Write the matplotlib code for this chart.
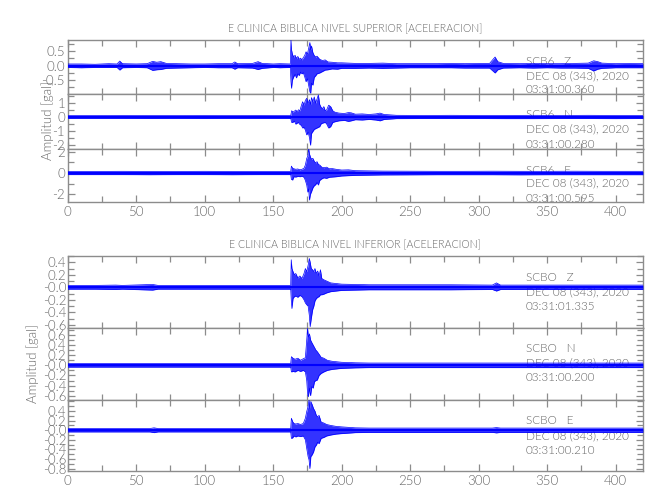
import matplotlib
matplotlib.use("Agg")
import matplotlib.pyplot as plt
from matplotlib.ticker import MultipleLocator, FixedLocator, FixedFormatter

plt.rcParams['font.family'] = ['Lato', 'DejaVu Sans']
plt.rcParams['font.weight'] = 300
plt.rcParams['axes.unicode_minus'] = False

# ---------------- data (envelopes) ----------------
titles = ["E CLINICA BIBLICA NIVEL SUPERIOR [ACELERACION]",
          "E CLINICA BIBLICA NIVEL INFERIOR [ACELERACION]"]
ylabel = "Amplitud [gal]"
xticks = [0, 50, 100, 150, 200, 250, 300, 350, 400]
xlim = [0, 420]

stations = ["SCB6   Z", "SCB6   N", "SCB6   E", "SCBO   Z", "SCBO   N", "SCBO   E"]
dates = ["DEC 08 (343), 2020"] * 6
times = ["03:31:00.360", "03:31:00.280", "03:31:00.595",
         "03:31:01.335", "03:31:00.200", "03:31:00.210"]

# top group, Z
sup_z_t = [0, 10, 20, 30, 36, 38, 40, 50, 58, 62, 65, 68, 72, 80, 90, 100, 110, 120, 122, 124,
           135, 139, 142, 150, 155, 162.5, 163.0, 163.4, 164, 165, 166, 167, 168, 169, 170, 171,
           172, 173, 174, 175, 176, 176.8, 177.4, 178, 179, 180, 181, 182, 184, 186, 188, 190,
           193, 197, 200, 205, 210, 220, 230, 240, 250, 260, 270, 280, 290, 300, 308, 312, 314,
           318, 330, 340, 350, 360, 370, 380, 384, 387, 390, 400, 410, 420]
sup_z_hi = [0.06, 0.06, 0.05, 0.07, 0.06, 0.16, 0.07, 0.06, 0.07, 0.15, 0.12, 0.14, 0.08, 0.07, 0.06,
            0.06, 0.07, 0.07, 0.13, 0.07, 0.08, 0.14, 0.08, 0.06, 0.07, 0.06, 0.88, 0.55, 0.40, 0.30,
            0.36, 0.25, 0.32, 0.22, 0.26, 0.20, 0.28, 0.35, 0.48, 0.40, 0.62, 0.80, 0.55, 0.68, 0.45,
            0.35, 0.30, 0.33, 0.22, 0.18, 0.20, 0.13, 0.12, 0.10, 0.10, 0.09, 0.08, 0.08, 0.09, 0.07,
            0.07, 0.07, 0.07, 0.08, 0.07, 0.08, 0.08, 0.30, 0.14, 0.08, 0.07, 0.08, 0.07, 0.07, 0.08,
            0.09, 0.17, 0.14, 0.09, 0.07, 0.08, 0.07]
sup_z_lo = [-0.06, -0.07, -0.06, -0.06, -0.06, -0.15, -0.07, -0.06, -0.07, -0.16, -0.14, -0.13, -0.09,
            -0.08, -0.07, -0.06, -0.07, -0.07, -0.12, -0.07, -0.08, -0.13, -0.09, -0.06, -0.07, -0.06,
            -0.55, -0.78, -0.50, -0.38, -0.30, -0.42, -0.28, -0.34, -0.22, -0.28, -0.24, -0.38, -0.55,
            -0.45, -0.70, -0.90, -0.95, -0.60, -0.67, -0.40, -0.35, -0.28, -0.25, -0.20, -0.15, -0.14,
            -0.11, -0.12, -0.09, -0.09, -0.09, -0.08, -0.09, -0.08, -0.07, -0.07, -0.07, -0.07, -0.08,
            -0.08, -0.08, -0.25, -0.14, -0.08, -0.07, -0.08, -0.07, -0.08, -0.08, -0.09, -0.18, -0.12,
            -0.09, -0.07, -0.07, -0.07]

# top group, N
sup_n_t = [0, 20, 40, 60, 80, 100, 120, 140, 160, 162.8, 163.5, 164.5, 165.5, 166.5, 167.5, 168.5,
           169.5, 170.5, 171.5, 172.5, 173.5, 174.5, 175.5, 176.5, 177.3, 178, 179, 180, 181, 182,
           183, 184, 185, 186, 187, 188, 189, 190.5, 192, 193.5, 195, 198, 202, 205, 207, 210, 215,
           220, 225, 228, 231, 240, 260, 280, 300, 320, 340, 360, 380, 400, 420]
sup_n_hi = [0.10, 0.10, 0.11, 0.10, 0.10, 0.11, 0.10, 0.11, 0.10, 0.10, 0.45, 0.35, 0.42, 0.50, 0.38,
            0.52, 0.45, 0.80, 1.10, 0.85, 1.20, 1.35, 1.00, 1.25, 0.90, 1.40, 1.10, 1.45, 1.00, 1.30,
            1.60, 0.90, 0.70, 0.60, 0.75, 0.45, 0.50, 0.85, 0.75, 0.45, 0.35, 0.28, 0.25, 0.32, 0.30,
            0.20, 0.22, 0.18, 0.22, 0.28, 0.18, 0.12, 0.11, 0.12, 0.11, 0.11, 0.12, 0.11, 0.12, 0.11,
            0.11]
sup_n_lo = [-0.10, -0.10, -0.10, -0.11, -0.10, -0.11, -0.10, -0.10, -0.10, -0.10, -0.40, -0.38, -0.30,
            -0.52, -0.45, -0.40, -0.55, -0.60, -0.80, -0.75, -0.95, -1.30, -1.10, -1.50, -2.05, -1.20,
            -1.05, -0.90, -0.85, -0.80, -0.75, -0.70, -0.50, -0.45, -0.42, -0.40, -0.50, -0.80, -0.70,
            -0.40, -0.35, -0.28, -0.25, -0.32, -0.28, -0.20, -0.22, -0.18, -0.22, -0.28, -0.18, -0.12,
            -0.11, -0.11, -0.11, -0.12, -0.12, -0.11, -0.11, -0.12, -0.11]

# top group, E
sup_e_t = [0, 20, 40, 60, 80, 100, 120, 140, 160, 162.8, 163.3, 164.2, 165.2, 166.5, 168, 169.5,
           171, 172.5, 173.5, 174.5, 175.3, 175.9, 176.5, 177.2, 178, 179, 180, 181, 182, 183, 184,
           185.5, 187, 189, 191, 193, 196, 200, 205, 210, 220, 230, 250, 270, 290, 310, 330, 350,
           370, 390, 410, 420]
sup_e_hi = [0.15, 0.15, 0.16, 0.15, 0.15, 0.16, 0.15, 0.15, 0.15, 0.15, 0.65, 0.45, 0.40, 0.35, 0.38,
            0.30, 0.35, 0.45, 0.75, 1.38, 1.60, 2.30, 1.80, 1.50, 1.30, 1.38, 1.10, 0.95, 1.07, 0.80,
            0.75, 0.55, 0.50, 0.55, 0.40, 0.42, 0.35, 0.28, 0.30, 0.22, 0.20, 0.18, 0.17, 0.16, 0.16,
            0.17, 0.16, 0.16, 0.17, 0.16, 0.16, 0.16]
sup_e_lo = [-0.15, -0.15, -0.15, -0.16, -0.15, -0.15, -0.16, -0.15, -0.15, -0.15, -0.60, -0.66, -0.35,
            -0.38, -0.32, -0.35, -0.30, -0.40, -0.70, -1.13, -1.80, -1.50, -2.55, -2.00, -1.76, -1.40,
            -1.20, -1.10, -0.90, -1.13, -0.70, -0.55, -0.45, -0.50, -0.40, -0.38, -0.35, -0.28, -0.25,
            -0.22, -0.20, -0.18, -0.17, -0.16, -0.16, -0.16, -0.17, -0.16, -0.16, -0.16, -0.16, -0.16]

# bottom group, Z
inf_z_t = [0, 20, 35, 40, 62, 66, 80, 100, 120, 140, 160, 162.8, 163.2, 163.7, 164.5, 165.5, 166.5,
           168, 169.5, 171, 172.5, 173.5, 174.5, 175.5, 176.4, 177, 177.8, 178.8, 179.7, 180.5,
           181.5, 182.5, 183.5, 184.5, 185.5, 187, 189, 192, 196, 200, 210, 220, 250, 280, 310, 313,
           316, 350, 390, 420]
inf_z_hi = [0.03, 0.03, 0.035, 0.03, 0.045, 0.03, 0.03, 0.03, 0.03, 0.03, 0.03, 0.03, 0.44, 0.30,
            0.25, 0.20, 0.22, 0.15, 0.18, 0.14, 0.22, 0.30, 0.25, 0.35, 0.46, 0.40, 0.30, 0.28, 0.25,
            0.30, 0.22, 0.26, 0.18, 0.28, 0.14, 0.12, 0.10, 0.07, 0.06, 0.05, 0.045, 0.04, 0.04, 0.04,
            0.035, 0.07, 0.035, 0.035, 0.035, 0.035]
inf_z_lo = [-0.03, -0.03, -0.035, -0.03, -0.045, -0.03, -0.03, -0.03, -0.03, -0.03, -0.03, -0.03,
            -0.20, -0.34, -0.18, -0.15, -0.14, -0.16, -0.13, -0.15, -0.20, -0.25, -0.28, -0.30, -0.45,
            -0.63, -0.50, -0.36, -0.30, -0.22, -0.18, -0.16, -0.15, -0.12, -0.12, -0.11, -0.09, -0.07,
            -0.06, -0.05, -0.045, -0.04, -0.04, -0.04, -0.035, -0.06, -0.035, -0.035, -0.035, -0.035]

# bottom group, N
inf_n_t = [0, 30, 60, 90, 120, 150, 162.8, 163.3, 164.5, 166, 168, 170, 172, 173.5, 174.5, 175.1,
           175.7, 176.5, 177.3, 178.2, 179.2, 180.2, 181.2, 182.2, 183.5, 185, 187, 189.5, 193, 200,
           210, 220, 260, 300, 340, 380, 420]
inf_n_hi = [0.035, 0.035, 0.035, 0.035, 0.035, 0.035, 0.035, 0.17, 0.14, 0.12, 0.14, 0.10, 0.13, 0.15,
            0.50, 0.73, 0.55, 0.62, 0.50, 0.45, 0.40, 0.35, 0.30, 0.27, 0.22, 0.16, 0.14, 0.10, 0.08,
            0.06, 0.05, 0.045, 0.045, 0.045, 0.045, 0.045, 0.045]
inf_n_lo = [-0.035, -0.035, -0.035, -0.035, -0.035, -0.035, -0.035, -0.13, -0.12, -0.13, -0.10, -0.12,
            -0.10, -0.13, -0.30, -0.55, -0.62, -0.45, -0.60, -0.42, -0.45, -0.32, -0.30, -0.29, -0.20,
            -0.16, -0.13, -0.10, -0.08, -0.06, -0.05, -0.045, -0.045, -0.045, -0.045, -0.045, -0.045]

# bottom group, E
inf_e_t = [0, 30, 60, 63, 66, 90, 120, 150, 162.8, 163.3, 164.2, 165.2, 166.5, 168, 170, 172, 173.5,
           174.5, 175.5, 176.2, 176.8, 177.5, 178.5, 179.5, 180.5, 181.5, 182.5, 183.5, 185, 187,
           189, 192, 196, 200, 210, 220, 260, 300, 310, 313, 316, 350, 390, 420]
inf_e_hi = [0.035, 0.035, 0.035, 0.05, 0.035, 0.035, 0.035, 0.035, 0.035, 0.25, 0.18, 0.14, 0.13, 0.14,
            0.12, 0.14, 0.25, 0.39, 0.50, 0.63, 0.45, 0.60, 0.53, 0.45, 0.40, 0.31, 0.28, 0.31, 0.17,
            0.15, 0.12, 0.10, 0.08, 0.07, 0.05, 0.045, 0.045, 0.045, 0.045, 0.055, 0.045, 0.045, 0.045,
            0.045]
inf_e_lo = [-0.035, -0.035, -0.035, -0.05, -0.035, -0.035, -0.035, -0.035, -0.035, -0.17, -0.16, -0.12,
            -0.14, -0.12, -0.13, -0.12, -0.20, -0.38, -0.55, -0.62, -0.80, -0.55, -0.51, -0.45, -0.35,
            -0.31, -0.25, -0.28, -0.17, -0.15, -0.12, -0.10, -0.08, -0.07, -0.05, -0.045, -0.045,
            -0.045, -0.045, -0.055, -0.045, -0.045, -0.045, -0.045]

traces = [(sup_z_t, sup_z_hi, sup_z_lo), (sup_n_t, sup_n_hi, sup_n_lo), (sup_e_t, sup_e_hi, sup_e_lo),
          (inf_z_t, inf_z_hi, inf_z_lo), (inf_n_t, inf_n_hi, inf_n_lo), (inf_e_t, inf_e_hi, inf_e_lo)]

ylims = [(-0.985, 0.886), (-2.32, 1.64), (-2.73, 2.26),
         (-0.656, 0.50), (-0.684, 0.73), (-0.85, 0.63)]
ytick_vals = [[-0.5, 0.0, 0.5], [-2, -1, 0, 1], [-2, 0, 2],
              [-0.6, -0.4, -0.2, 0.0, 0.2, 0.4],
              [-0.6, -0.4, -0.2, 0.0, 0.2, 0.4, 0.6],
              [-0.8, -0.6, -0.4, -0.2, 0.0, 0.2, 0.4]]
ytick_labels = [["-0.5", "0.0", "0.5"], ["-2", "-1", "0", "1"], ["-2", "0", "2"],
                ["-0.6", "-0.4", "-0.2", "-0.0", "0.2", "0.4"],
                ["-0.6", "-0.4", "-0.2", "-0.0", "0.2", "0.4", "0.6"],
                ["-0.8", "-0.6", "-0.4", "-0.2", "-0.0", "0.2", "0.4"]]
yminor = [0.25, 0.5, 1.0, 0.1, 0.1, 0.1]

# ---------------- layout ----------------
W, H = 650, 500
fig = plt.figure(figsize=(6.5, 5.0), dpi=100)
fig.patch.set_facecolor('white')

x0, x1 = 67.7, 643.0
panel_px = [(40, 94.3), (94.3, 149), (149, 202), (256, 328.3), (328.3, 400), (400, 471)]
text_y = [(61.7, 76, 90), (115, 129.3, 144), (170, 183.3, 198.3),
          (277.7, 291.7, 306), (349, 363.3, 377.7), (421, 435.7, 450)]
text_x = 525.7

grey = '#666666'
frame = '#8c8c8c'
blue = '#0000ff'
fs = 9.5
fs_ann = 8.5
fs_title = 7.6

axes = []
for i, (top, bot) in enumerate(panel_px):
    ax = fig.add_axes([x0 / W, 1 - bot / H, (x1 - x0) / W, (bot - top) / H])
    axes.append(ax)
    t, hi, lo = traces[i]
    ax.fill_between(t, lo, hi, color=blue, lw=0, alpha=0.8, zorder=3)
    ax.plot(t, hi, color=blue, lw=0.5, zorder=3)
    ax.plot(t, lo, color=blue, lw=0.5, zorder=3)
    ax.axhline(0, color=blue, lw=1.5, zorder=3)
    ax.set_xlim(xlim)
    ax.set_ylim(ylims[i])
    ax.xaxis.set_major_locator(FixedLocator(xticks))
    ax.xaxis.set_minor_locator(MultipleLocator(25))
    ax.yaxis.set_major_locator(FixedLocator(ytick_vals[i]))
    ax.yaxis.set_major_formatter(FixedFormatter(ytick_labels[i]))
    ax.yaxis.set_minor_locator(MultipleLocator(yminor[i]))
    ax.tick_params(which='both', direction='in', top=True, right=True, color=frame,
                   labelcolor=grey, labelsize=fs, width=0.9)
    ax.tick_params(which='major', length=5)
    ax.tick_params(which='minor', length=4)
    ax.tick_params(axis='y', pad=2 if i < 3 else 1)
    ax.tick_params(axis='x', pad=3)
    if i not in (2, 5):
        ax.tick_params(axis='x', labelbottom=False)
    for s in ax.spines.values():
        s.set_color(frame)
        s.set_linewidth(1.0)
    lines = [stations[i], dates[i], times[i]]
    for j in range(3):
        ax.text(text_x / W, 1 - text_y[i][j] / H, lines[j], transform=fig.transFigure,
                ha='left', va='center', color=grey, fontsize=fs_ann, zorder=1)

fig.text((x0 + x1) / 2 / W, 1 - 29 / H, titles[0], ha='center', va='center', color=grey, fontsize=fs_title)
fig.text((x0 + x1) / 2 / W, 1 - 245 / H, titles[1], ha='center', va='center', color=grey, fontsize=fs_title)
fig.text(47.7 / W, 1 - 121 / H, ylabel, rotation=90, ha='center', va='center', color=grey, fontsize=fs)
fig.text(33 / W, 1 - 363.5 / H, ylabel, rotation=90, ha='center', va='center', color=grey, fontsize=fs)

fig.savefig("out.png", dpi=100, facecolor='white')
